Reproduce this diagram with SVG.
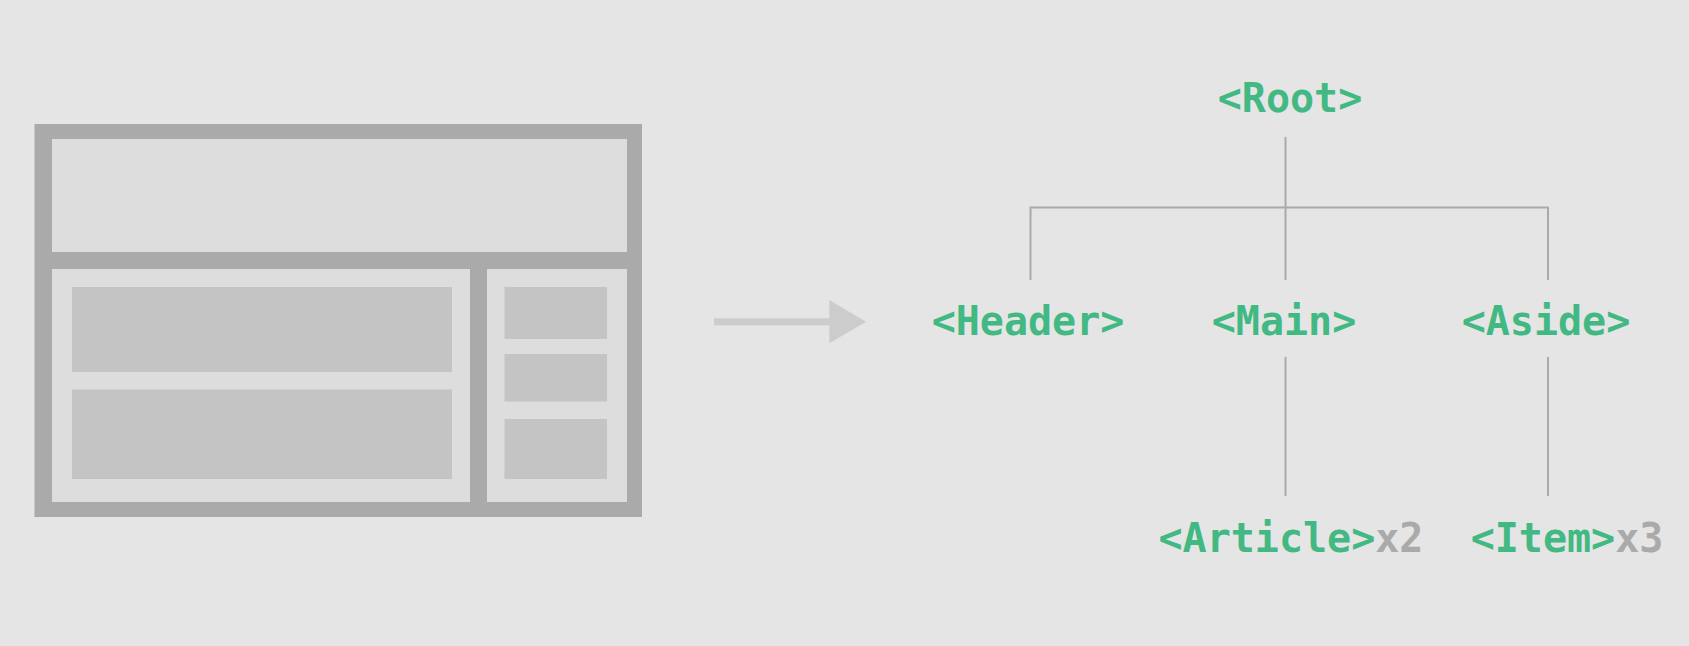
<svg xmlns="http://www.w3.org/2000/svg" width="1689" height="646" viewBox="0 0 1689 646">
<style>
.frame{fill:#aaaaaa}
.panel{fill:#dddddd}
.block{fill:#c4c4c4}
.edge{stroke:#aaaaaa;stroke-width:2;fill:none}
.tag{font-family:"DejaVu Sans Mono","Liberation Mono",monospace;font-weight:bold;font-size:40px;fill:#42b883;text-anchor:middle}
.cnt{fill:#aaaaaa}
</style>
<rect width="1689" height="646" fill="#e5e5e5"/>
<g id="layout">
<rect class="frame" x="34.5" y="124" width="607.5" height="393"/>
<rect class="panel" x="52" y="139" width="575" height="113"/>
<rect class="panel" x="52" y="269" width="418" height="233"/>
<rect class="panel" x="487" y="269" width="140" height="233"/>
<rect class="block" x="72" y="287" width="380" height="85"/>
<rect class="block" x="72" y="389.5" width="380" height="89.5"/>
<rect class="block" x="504.5" y="287" width="102.5" height="52"/>
<rect class="block" x="504.5" y="354" width="102.5" height="47.5"/>
<rect class="block" x="504.5" y="419" width="102.5" height="60"/>
</g>
<g id="arrow">
<rect x="714" y="318.3" width="116" height="7" fill="#cccccc"/>
<polygon points="829.3,300 866,321.7 829.3,343.3" fill="#cccccc"/>
</g>
<g id="connectors">
<line class="edge" x1="1285.5" y1="137" x2="1285.5" y2="280"/>
<polyline class="edge" points="1030.5,280 1030.5,207.5 1548,207.5 1548,280"/>
<line class="edge" x1="1285.5" y1="357" x2="1285.5" y2="496"/>
<line class="edge" x1="1548" y1="357" x2="1548" y2="496"/>
</g>
<g id="root"><text class="tag" x="1290" y="112">&lt;Root&gt;</text></g>
<g id="header"><text class="tag" x="1028" y="335">&lt;Header&gt;</text></g>
<g id="main"><text class="tag" x="1284" y="335">&lt;Main&gt;</text></g>
<g id="aside"><text class="tag" x="1546" y="335">&lt;Aside&gt;</text></g>
<g id="article"><text class="tag" x="1291" y="552">&lt;Article&gt;<tspan class="cnt">x2</tspan></text></g>
<g id="item"><text class="tag" x="1567" y="552">&lt;Item&gt;<tspan class="cnt">x3</tspan></text></g>
</svg>
